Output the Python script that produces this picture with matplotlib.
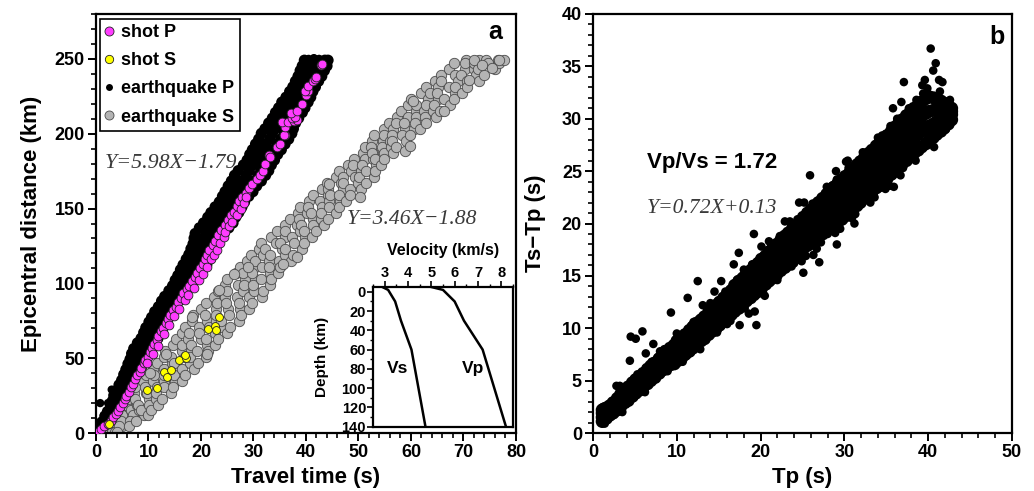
import matplotlib
matplotlib.use('Agg')
import matplotlib.pyplot as plt
from matplotlib.ticker import MultipleLocator
from matplotlib.lines import Line2D

plt.rcParams['font.family'] = ['Liberation Sans', 'DejaVu Sans']
plt.rcParams['font.weight'] = 'bold'
plt.rcParams['axes.linewidth'] = 1.6

# ---------------- Panel a data ----------------
# earthquake P (rows of distance with four travel-time readings across the band)
eqP_dist = [0.5, 4.2, 7.3, 11.1, 14.4, 18.2, 21.3, 25.1, 28.4, 32.2,
            35.3, 39.1, 42.4, 46.2, 49.3, 53.1, 56.4, 60.2, 63.3, 67.1,
            70.4, 74.2, 77.3, 81.1, 84.4, 88.2, 91.3, 95.1, 98.4, 102.2,
            105.3, 109.1, 112.4, 116.2, 119.3, 123.1, 126.4, 130.2, 133.3, 137.1,
            140.4, 144.2, 147.3, 151.1, 154.4, 158.2, 161.3, 165.1, 168.4, 172.2,
            175.3, 179.1, 182.4, 186.2, 189.3, 193.1, 196.4, 200.2, 203.3, 207.1,
            210.4, 214.2, 217.3, 221.1, 224.4, 228.2, 231.3, 235.1, 238.4, 242.2,
            245.3, 249.1]
eqP_time_a = [0.2, 0.6, 1.1, 1.7, 2.2, 2.8, 3.1, 3.4, 3.9, 4.4,
              4.9, 5.3, 5.7, 6.1, 6.5, 6.8, 7.2, 7.9, 8.6, 9.1,
              9.5, 10.1, 10.6, 11.2, 11.9, 12.5, 13.1, 13.9, 14.6, 15.1,
              15.6, 16.1, 16.6, 17.2, 17.7, 18.1, 18.5, 18.7, 18.9, 19.7,
              20.5, 21.3, 21.9, 22.7, 23.5, 24.1, 24.6, 25.2, 25.8, 26.4,
              27.1, 28.1, 28.8, 29.3, 29.8, 30.4, 31.0, 31.5, 32.2, 32.9,
              33.6, 34.2, 34.8, 35.4, 36.2, 36.9, 37.5, 38.0, 38.5, 38.9,
              39.3, 39.7]
eqP_time_b = [0.3, 0.9, 1.8, 2.5, 3.1, 3.6, 4.0, 4.4, 4.9, 5.4,
              5.9, 6.4, 6.7, 7.1, 7.6, 8.0, 8.6, 9.2, 9.9, 10.4,
              10.8, 11.4, 11.8, 12.4, 13.1, 13.7, 14.4, 15.2, 15.9, 16.5,
              17.0, 17.6, 18.2, 18.7, 19.2, 19.6, 20.1, 20.4, 21.0, 21.8,
              22.6, 23.2, 23.8, 24.5, 25.1, 25.8, 26.5, 27.1, 27.9, 28.6,
              29.2, 29.9, 30.6, 31.1, 31.8, 32.4, 33.1, 33.6, 34.1, 34.6,
              35.3, 36.0, 36.5, 37.2, 37.8, 38.3, 38.9, 39.5, 40.1, 40.6,
              41.1, 41.6]
eqP_time_c = [0.4, 1.1, 2.5, 3.3, 3.9, 4.4, 4.9, 5.4, 5.9, 6.5,
              6.9, 7.4, 7.9, 8.3, 8.8, 9.3, 10.0, 10.5, 11.1, 11.6,
              12.1, 12.6, 13.1, 13.7, 14.3, 15.0, 15.7, 16.5, 17.3, 17.9,
              18.5, 19.1, 19.8, 20.3, 20.8, 21.2, 21.7, 22.2, 23.0, 23.9,
              24.7, 25.2, 25.7, 26.3, 26.8, 27.6, 28.4, 29.1, 30.0, 30.9,
              31.4, 31.8, 32.4, 33.0, 33.8, 34.5, 35.2, 35.8, 36.0, 36.4,
              37.1, 37.8, 38.3, 39.0, 39.4, 39.8, 40.3, 41.0, 41.7, 42.3,
              43.0, 43.6]
eqP_time_d = [0.7, 1.5, 2.9, 3.7, 4.3, 4.8, 5.3, 5.8, 6.3, 6.9,
              7.5, 8.1, 8.6, 9.0, 9.5, 10.1, 10.7, 11.2, 11.8, 12.4,
              12.8, 13.3, 13.9, 14.4, 15.0, 15.8, 16.5, 17.2, 18.0, 18.8,
              19.6, 20.3, 21.1, 21.7, 22.1, 22.6, 23.1, 23.6, 24.4, 25.3,
              26.1, 26.6, 27.2, 27.8, 28.3, 29.1, 29.9, 30.6, 31.5, 32.3,
              32.9, 33.4, 34.0, 34.6, 35.3, 36.0, 36.7, 37.3, 37.6, 38.0,
              38.6, 39.3, 39.8, 40.4, 40.9, 41.3, 41.8, 42.4, 43.0, 43.5,
              44.0, 44.2]
eqP_extra_time = [0.8, 2.3, 3.0, 1.5, 40.5, 41.5, 42.5, 43.5, 43.8, 42.8, 44.0, 41.0]
eqP_extra_dist = [20, 20, 29, 12, 250, 250.5, 250, 249.5, 247, 244, 249, 246]

# earthquake S (rows of distance with five travel-time readings across the band)
eqS_dist = [1, 4.5, 8, 12, 15.5, 19, 23, 27, 31, 35,
            39, 43, 47, 51, 55, 59, 63, 67, 71, 75,
            79, 83, 87, 91, 95, 99, 103, 107, 111, 115,
            119, 123, 127, 131, 135, 139, 143, 147, 151, 155,
            159, 163, 167, 171, 175, 179, 183, 187, 191, 195,
            199, 203, 207, 211, 215, 219, 223, 227, 231, 235,
            239, 243, 247, 249.5]
eqS_time_a = [2.3, 3.0, 3.0, 4.2, 4.6, 5.7, 6.1, 7.3, 7.5, 8.9,
              9.5, 10.9, 11.6, 13.0, 13.2, 14.6, 15.2, 16.4, 17.0, 18.3,
              18.5, 20.1, 20.9, 22.4, 23.3, 24.6, 25.0, 26.6, 27.5, 28.7,
              29.5, 31.0, 31.4, 33.4, 34.4, 36.0, 36.9, 38.4, 38.8, 40.5,
              41.3, 43.0, 44.1, 45.8, 46.3, 48.1, 49.1, 50.8, 51.3, 52.6,
              53.0, 54.8, 55.8, 57.4, 58.1, 59.5, 60.1, 61.9, 62.9, 64.6,
              65.7, 67.3, 68.2, 70.4]
eqS_time_b = [3.1, 3.35, 4.7, 4.9, 6.75, 7.9, 7.4, 9.5, 9.4, 10.8,
              11.0, 13.05, 14.55, 14.35, 16.3, 16.3, 17.6, 17.7, 19.7, 21.2,
              20.7, 22.9, 23.1, 24.6, 24.9, 27.0, 28.35, 28.1, 30.3, 30.3,
              31.8, 32.2, 34.3, 36.1, 36.1, 38.3, 38.6, 40.2, 40.4, 42.7,
              44.2, 44.2, 46.7, 47.1, 48.55, 48.9, 51.2, 52.85, 52.45, 54.65,
              54.9, 56.6, 57.15, 59.45, 60.95, 60.9, 63.2, 63.55, 65.2, 65.8,
              68.35, 70.2, 70.3, 72.9]
eqS_time_c = [3.0, 5.0, 4.8, 7.15, 8.2, 8.05, 10.1, 9.65, 11.55, 12.95,
              13.05, 15.1, 14.8, 16.9, 18.05, 18.05, 20.1, 19.55, 21.55, 22.95,
              22.95, 25.15, 24.75, 26.85, 28.1, 28.15, 30.2, 29.65, 31.7, 33.05,
              33.2, 35.5, 35.05, 37.35, 38.85, 39.0, 41.3, 40.95, 43.0, 44.45,
              44.65, 47.1, 47.0, 49.25, 50.5, 50.65, 52.85, 52.5, 54.5, 56.0,
              56.35, 58.8, 58.7, 60.9, 62.4, 62.8, 65.15, 64.9, 67.15, 68.9,
              69.5, 72.1, 72.0, 74.25]
eqS_time_d = [3.7, 4.35, 6.5, 9.1, 8.65, 10.1, 11.4, 11.4, 12.9, 15.0,
              14.8, 16.45, 17.95, 17.95, 19.3, 21.1, 20.9, 22.6, 23.9, 23.9,
              25.4, 27.4, 27.3, 29.1, 30.1, 29.9, 31.35, 33.1, 32.9, 34.8,
              36.0, 36.1, 37.7, 39.8, 39.7, 41.4, 42.8, 42.8, 44.4, 46.4,
              46.3, 48.4, 50.0, 50.1, 51.45, 53.3, 53.1, 54.85, 56.15, 56.35,
              58.2, 60.5, 60.75, 62.65, 64.15, 64.4, 66.2, 68.35, 68.4, 70.6,
              72.35, 72.8, 74.7, 76.6]
eqS_time_e = [4.0, 6.2, 7.6, 10.0, 10.4, 11.9, 12.6, 14.2, 14.6, 16.3,
              17.0, 18.6, 19.5, 21.0, 21.3, 22.6, 23.2, 25.0, 25.6, 27.2,
              27.6, 29.1, 29.8, 31.6, 31.8, 33.1, 33.4, 34.6, 35.1, 37.1,
              37.6, 39.2, 39.7, 41.2, 41.9, 43.5, 44.2, 45.7, 46.2, 47.7,
              48.4, 50.5, 51.4, 52.9, 53.1, 54.3, 54.8, 56.5, 57.2, 59.0,
              59.9, 61.7, 62.8, 64.7, 65.6, 67.4, 68.2, 69.8, 70.6, 72.9,
              74.0, 76.0, 76.8, 77.8]
eqS_extra_time = [23.5, 38.2, 50.3, 58.9, 29.0, 18.2, 44.3, 60.4, 66.2, 72.0,
                  73.5, 75.5, 76.8, 71.0, 59.8, 35.7, 26.2, 13.4, 10.3, 21.1]
eqS_extra_dist = [95.5, 117.8, 157.8, 188.7, 111, 77.8, 166.5, 222, 215.3, 249.5,
                  246, 244, 249.5, 236, 192, 113, 106.5, 53, 39.8, 53]

# shot P
shotP_time = [0.3, 0.9, 1.6, 2.3, 2.8, 3.3, 3.8, 4.2, 4.6, 5.1,
              5.5, 5.8, 6.3, 6.6, 7.1, 7.5, 7.9, 8.3, 8.6, 9.1,
              9.4, 9.9, 10.2, 10.7, 11.1, 11.6, 11.9, 12.4, 12.8, 13.3,
              13.8, 14.1, 14.7, 15.2, 15.6, 16.2, 16.6, 17.3, 17.8, 18.3,
              18.9, 19.3, 19.8, 20.3, 20.8, 21.2, 21.6, 22.2, 22.6, 23.3,
              23.9, 24.6, 25.2, 25.8, 26.2, 26.8, 27.2, 27.9, 28.5, 29.2,
              29.8, 30.6, 31.3, 31.9,
              9.8, 10.9, 11.8, 13.0, 13.9, 14.9, 15.8, 16.9, 17.6, 18.6,
              19.6, 20.4, 21.2, 21.9, 22.4, 23.0, 23.6, 24.4, 24.6, 25.4,
              25.9, 26.9, 27.6, 28.2, 28.6,
              32.2, 32.9, 34.4, 35.0, 36.0, 35.9, 36.0, 35.5, 36.6, 37.7,
              38.3, 37.3, 37.9, 37.1, 38.2, 39.2, 40.1, 40.4, 39.8, 40.4,
              41.3, 41.7, 41.9, 42.8, 43.0, 33.1]
shotP_dist = [1.0, 2.5, 4.5, 6.0, 8.0, 10.5, 12.5, 15.0, 17.5, 20.0,
              22.5, 25.0, 27.5, 30.5, 33.0, 36.0, 38.5, 41.0, 43.5, 46.5,
              49.0, 51.0, 54.0, 56.5, 59.5, 62.0, 65.0, 68.0, 70.5, 73.5,
              76.0, 79.0, 82.0, 84.5, 87.5, 90.5, 93.5, 96.0, 98.5, 101.5,
              104.0, 107.0, 110.5, 113.0, 116.5, 119.0, 122.5, 125.5, 128.5, 132.0,
              135.5, 139.0, 142.5, 145.5, 148.0, 151.5, 155.0, 157.5, 160.5, 164.0,
              166.5, 170.0, 172.5, 175.0,
              47, 53, 58, 66, 72, 78, 83, 89, 92, 97,
              102, 106, 111, 116, 119, 122, 127, 131, 134, 138,
              141, 146, 150, 154, 158,
              180, 185.5, 191, 193, 198.9, 199.3, 204.7, 207.6, 207.7, 208.6,
              209, 210.5, 211, 214, 215.5, 219.8, 226, 228.6, 228.7, 232,
              235, 236.4, 238, 246, 246.4, 184.4]

# shot S
shotS_time = [2.5, 9.8, 11.7, 13.0, 13.5, 14.3, 15.9, 17.1, 16.9, 21.3, 22.7, 22.8, 23.5]
shotS_dist = [6.0, 28.6, 30.0, 40.5, 37.6, 42.2, 48.9, 49.8, 51.8, 69.3, 71.6, 69.1, 77.6]

# inset velocity model
vs_vel = [2.9, 3.15, 3.45, 3.7, 4.15, 4.75]
vs_depth = [-5, -2, 10, 30, 60, 140]
vp_vel = [5.0, 5.5, 6.0, 6.4, 7.2, 8.2]
vp_depth = [-5, -2, 10, 30, 60, 140]

# ---------------- Panel b data ----------------
b_tp = [1.1, 1.3, 1.6, 2.0, 2.4, 2.9, 3.3, 3.8, 4.2, 4.7,
        5.1, 5.6, 6.0, 6.5, 6.9, 7.4, 7.9, 8.3, 8.8, 9.2,
        9.7, 10.1, 10.6, 11.0, 11.5, 11.9, 12.4, 12.9, 13.3, 13.8,
        14.2, 14.7, 15.1, 15.6, 16.0, 16.5, 16.9, 17.4, 17.9, 18.3,
        18.8, 19.2, 19.7, 20.1, 20.6, 21.0, 21.5, 21.9, 22.4, 22.9,
        23.3, 23.8, 24.2, 24.7, 25.1, 25.6, 26.0, 26.5, 26.9, 27.4,
        27.9, 28.3, 28.8, 29.2, 29.7, 30.1, 30.6, 31.0, 31.5, 31.9,
        32.4, 32.9, 33.3, 33.8, 34.2, 34.7, 35.1, 35.6, 36.0, 36.5,
        36.9, 37.4, 37.9, 38.3, 38.8, 39.2, 39.7, 40.1, 40.6, 41.0,
        41.5, 41.9, 42.4, 42.8]
b_lo = [1.1, 1.3, 1.4, 1.7, 1.9, 2.2, 2.5, 2.9, 3.1, 3.5,
        3.8, 4.1, 4.4, 4.7, 5.0, 5.3, 5.7, 6.0, 6.3, 6.5,
        6.6, 6.9, 7.2, 7.5, 7.8, 8.1, 8.4, 8.8, 9.0, 9.4,
        9.7, 10.0, 10.3, 10.7, 10.9, 11.3, 11.6, 11.9, 12.3, 12.6,
        12.9, 13.2, 13.5, 13.8, 14.2, 14.5, 14.8, 15.1, 15.5, 15.8,
        16.1, 16.5, 16.7, 17.1, 17.6, 17.9, 18.1, 18.4, 18.7, 19.0,
        19.3, 19.6, 19.9, 20.1, 20.4, 20.7, 21.0, 21.3, 21.7, 22.0,
        22.4, 22.7, 23.0, 23.4, 23.6, 24.0, 24.3, 24.7, 25.0, 25.4,
        25.7, 26.0, 26.4, 26.7, 27.0, 27.3, 27.6, 27.9, 28.2, 28.5,
        28.8, 29.1, 29.5, 29.9]
b_m1 = [1.5, 1.7, 1.8, 2.0, 2.2, 2.6, 2.9, 3.2, 3.5, 3.8,
        4.1, 4.5, 4.8, 5.1, 5.4, 5.8, 6.1, 6.4, 6.7, 7.0,
        7.3, 7.6, 8.0, 8.3, 8.6, 8.9, 9.2, 9.6, 9.9, 10.2,
        10.5, 10.9, 11.2, 11.6, 11.8, 12.2, 12.5, 12.9, 13.2, 13.5,
        13.9, 14.2, 14.5, 14.8, 15.2, 15.5, 15.9, 16.2, 16.5, 16.9,
        17.2, 17.6, 17.9, 18.2, 18.6, 18.9, 19.2, 19.5, 19.8, 20.1,
        20.5, 20.8, 21.1, 21.4, 21.7, 22.0, 22.3, 22.6, 23.0, 23.3,
        23.7, 24.0, 24.4, 24.7, 25.0, 25.4, 25.7, 26.1, 26.4, 26.8,
        27.1, 27.5, 27.8, 28.1, 28.5, 28.8, 29.1, 29.3, 29.5, 29.7,
        29.9, 30.0, 30.2, 30.4]
b_m2 = [1.9, 2.1, 2.0, 2.3, 2.6, 2.9, 3.2, 3.6, 3.9, 4.3,
        4.5, 4.9, 5.2, 5.5, 5.8, 6.2, 6.5, 6.8, 7.2, 7.5,
        7.8, 8.1, 8.5, 8.8, 9.1, 9.4, 9.8, 10.1, 10.4, 10.8,
        11.1, 11.5, 11.8, 12.2, 12.4, 12.8, 13.1, 13.5, 13.9, 14.2,
        14.6, 14.9, 15.3, 15.5, 15.9, 16.2, 16.6, 16.9, 17.3, 17.7,
        18.0, 18.4, 18.7, 19.1, 19.6, 20.0, 20.3, 20.6, 20.9, 21.3,
        21.6, 21.9, 22.3, 22.6, 22.9, 23.2, 23.6, 23.9, 24.3, 24.6,
        25.0, 25.4, 25.7, 26.1, 26.4, 26.8, 27.1, 27.5, 27.8, 28.2,
        28.5, 28.9, 29.3, 29.6, 29.9, 30.2, 30.5, 30.7, 30.8, 30.9,
        31.0, 31.0, 30.9, 30.7]
b_hi = [2.2, 2.3, 2.4, 2.6, 2.9, 3.3, 3.7, 4.1, 4.4, 4.8,
        5.1, 5.4, 5.7, 6.1, 6.4, 6.7, 7.1, 7.4, 7.7, 8.1,
        8.4, 8.8, 9.1, 9.4, 9.8, 10.1, 10.5, 10.8, 11.1, 11.5,
        11.8, 12.2, 12.5, 12.9, 13.2, 13.6, 14.1, 14.5, 14.8, 15.2,
        15.5, 15.9, 16.2, 16.6, 16.9, 17.3, 17.7, 18.0, 18.4, 18.8,
        19.1, 19.5, 19.8, 20.2, 20.6, 21.0, 21.3, 21.7, 22.0, 22.4,
        22.8, 23.1, 23.5, 23.8, 24.2, 24.5, 24.8, 25.2, 25.6, 25.9,
        26.3, 26.7, 27.0, 27.4, 27.7, 28.1, 28.4, 28.8, 29.2, 29.6,
        29.9, 30.3, 30.7, 31.0, 31.3, 31.6, 31.9, 32.1, 32.0, 31.9,
        31.7, 31.5, 31.3, 31.0]
b_extra_tp = [2.8, 3.2, 4.4, 4.5, 5.1, 5.9, 6.3, 7.2, 8.0, 9.3,
              11.3, 12.5, 14.5, 15.3, 16.8, 17.4, 19.2, 19.5, 17.5, 20.1,
              22.9, 24.6, 25.2, 25.9, 29.0, 30.2, 30.4, 29.1, 25.1, 27.0,
              37.1, 38.6, 39.6, 40.3, 40.9, 40.6, 41.3, 41.7, 35.8, 36.8,
              33.5, 32.5, 22.3, 21.8, 11.5, 16.0, 18.6, 19.3, 26.3, 31.2,
              33.0, 35.9, 39.0, 40.2, 41.8, 27.9, 29.1, 10.0, 8.5, 13.1,
              36.3, 38.0, 39.3, 39.9, 34.5, 35.2, 23.5, 21.0, 1.2, 1.4,
              14.0, 18.0, 20.5, 24.0, 28.0, 32.0, 34.0, 37.5, 12.0, 7.0,
              3.5, 5.3, 6.2, 7.7, 8.9, 9.8, 10.7, 11.8, 12.8, 13.6,
              14.8, 15.8, 16.4, 17.2, 18.1, 19.0, 20.3, 21.2, 22.0, 22.7,
              23.7, 24.4, 25.4, 26.2, 27.2, 28.5, 29.5, 30.5, 31.3, 32.2,
              33.1, 34.0, 34.9, 35.5, 36.7, 37.7, 38.5, 39.4, 40.7, 41.4,
              42.1, 42.6, 38.9, 37.0, 35.4, 33.6, 30.9, 28.9, 26.7, 24.9]
b_extra_dt = [4.5, 4.5, 6.9, 9.2, 9.0, 9.7, 7.6, 8.5, 7.8, 11.5,
              12.9, 14.5, 13.5, 14.5, 16.1, 17.2, 19.0, 10.3, 10.3, 17.8,
              20.2, 22.0, 22.0, 24.6, 25.0, 25.9, 26.0, 18.0, 15.3, 16.3,
              33.5, 31.8, 33.7, 36.7, 35.3, 34.6, 33.7, 33.5, 31.0, 31.6,
              26.5, 26.0, 18.8, 17.6, 7.6, 10.4, 11.4, 11.6, 17.0, 20.0,
              22.4, 23.5, 27.0, 28.5, 28.9, 23.5, 24.2, 9.5, 8.0, 12.2,
              30.0, 31.0, 33.2, 32.9, 28.4, 28.6, 20.2, 18.3, 2.4, 0.9,
              12.4, 15.6, 13.1, 16.2, 19.0, 22.0, 23.6, 26.2, 10.6, 6.8,
              2.0, 5.6, 3.9, 7.2, 5.9, 8.9, 6.8, 10.3, 8.0, 11.9,
              9.6, 13.5, 10.7, 14.6, 11.9, 16.1, 13.3, 17.7, 14.6, 18.8,
              15.9, 20.4, 16.9, 21.9, 18.2, 23.6, 19.5, 25.3, 20.9, 26.8,
              22.0, 28.2, 23.3, 29.3, 24.6, 31.0, 26.0, 32.4, 27.3, 32.6,
              29.0, 31.8, 29.0, 25.3, 23.6, 22.5, 20.5, 19.1, 17.6, 16.4]

# ---------------- Figure ----------------
fig = plt.figure(figsize=(10.34, 4.91), dpi=100)
axA = fig.add_axes([0.0928, 0.1181, 0.4062, 0.8534])
axB = fig.add_axes([0.5735, 0.1181, 0.4052, 0.8534])


def style(ax, labelsize=13):
    ax.tick_params(which='major', direction='out', length=6, width=1.4,
                   labelsize=labelsize, pad=2)
    ax.tick_params(which='minor', direction='out', length=3.5, width=1.2)
    for sp in ax.spines.values():
        sp.set_linewidth(1.6)


GRAY_FACE = '#b4b4b4'
GRAY_EDGE = '#4a4a4a'
PINK = '#ff3cff'
YELLOW = '#ffff00'

# Panel a scatters
eP_t = eqP_time_a + eqP_time_b + eqP_time_c + eqP_time_d
eP_d = eqP_dist * 4
axA.scatter(eP_t, eP_d, s=66, c='black', edgecolors='none', zorder=2)
axA.scatter(eqP_extra_time, eqP_extra_dist, s=36, c='black', edgecolors='none', zorder=2)
eS_t = eqS_time_a + eqS_time_b + eqS_time_c + eqS_time_d + eqS_time_e + eqS_extra_time
eS_d = eqS_dist * 5 + eqS_extra_dist
axA.scatter(eS_t, eS_d, s=56, c=GRAY_FACE, edgecolors=GRAY_EDGE,
            linewidths=0.6, zorder=2)
axA.scatter(shotP_time, shotP_dist, s=40, c=PINK, edgecolors='#222222',
            linewidths=0.6, zorder=3)
axA.scatter(shotS_time, shotS_dist, s=32, c=YELLOW, edgecolors='#222222',
            linewidths=0.6, zorder=4)

axA.set_xlim(0, 80)
axA.set_ylim(0, 280)
axA.xaxis.set_major_locator(MultipleLocator(10))
axA.xaxis.set_minor_locator(MultipleLocator(2))
axA.yaxis.set_minor_locator(MultipleLocator(10))
axA.set_yticks([0, 50, 100, 150, 200, 250])
style(axA)
axA.set_xlabel('Travel time (s)', fontsize=16, fontweight='bold', labelpad=4)
axA.set_ylabel('Epicentral distance (km)', fontsize=16, fontweight='bold', labelpad=9)

handles = [
    Line2D([], [], ls='none', marker='o', markersize=6.5, markerfacecolor=PINK,
           markeredgecolor='#222222', markeredgewidth=0.6, label='shot P'),
    Line2D([], [], ls='none', marker='o', markersize=6, markerfacecolor=YELLOW,
           markeredgecolor='#222222', markeredgewidth=0.6, label='shot S'),
    Line2D([], [], ls='none', marker='o', markersize=5, markerfacecolor='black',
           markeredgecolor='black', markeredgewidth=0, label='earthquake P'),
    Line2D([], [], ls='none', marker='o', markersize=6.5, markerfacecolor=GRAY_FACE,
           markeredgecolor=GRAY_EDGE, markeredgewidth=0.6, label='earthquake S'),
]
leg = axA.legend(handles=handles, loc='upper left', frameon=True,
                 fancybox=False, edgecolor='black', framealpha=1,
                 prop=dict(size=13, weight='bold'), handletextpad=0.55,
                 borderpad=0.3, labelspacing=0.62, numpoints=1,
                 borderaxespad=0.25, handlelength=0.3)
leg.get_frame().set_linewidth(1.2)

axA.text(1.7, 180, 'Y=5.98X\u22121.79', fontsize=15.8, family='Liberation Serif',
         style='italic', fontweight='normal', color='#3a3a3a', va='center', ha='left')
axA.text(47.8, 143, 'Y=3.46X\u22121.88', fontsize=15.6, family='Liberation Serif',
         style='italic', fontweight='normal', color='#3a3a3a', va='center', ha='left')
axA.text(76, 268, 'a', fontsize=18, fontweight='bold', ha='center', va='center')

# Inset
axI = fig.add_axes([0.3607, 0.131, 0.1354, 0.2845])
axI.plot(vs_vel, vs_depth, color='black', lw=1.8)
axI.plot(vp_vel, vp_depth, color='black', lw=1.8)
axI.set_xlim(2.5, 8.5)
axI.set_ylim(140, -5)
axI.xaxis.tick_top()
axI.xaxis.set_label_position('top')
axI.xaxis.set_minor_locator(MultipleLocator(0.5))
axI.set_xticks([3, 4, 5, 6, 7, 8])
axI.set_yticks([0, 20, 40, 60, 80, 100, 120, 140])
axI.yaxis.set_minor_locator(MultipleLocator(10))
axI.tick_params(which='major', direction='out', length=4, width=1.2, labelsize=10.5, pad=1)
axI.tick_params(which='minor', direction='out', length=2.5, width=1.0)
for sp in axI.spines.values():
    sp.set_linewidth(1.6)
axI.set_xlabel('Velocity (km/s)', fontsize=11.5, fontweight='bold', labelpad=8)
axI.set_ylabel('Depth (km)', fontsize=11, fontweight='bold', labelpad=9)
axI.text(3.56, 80, 'Vs', fontsize=12.5, fontweight='bold', ha='center', va='center')
axI.text(6.78, 80, 'Vp', fontsize=12.5, fontweight='bold', ha='center', va='center')

# Panel b
b_x = b_tp * 4
b_y = b_lo + b_m1 + b_m2 + b_hi
axB.scatter(b_x, b_y, s=88, c='black', edgecolors='none', zorder=2)
axB.scatter(b_extra_tp, b_extra_dt, s=38, c='black', edgecolors='none', zorder=2)
axB.set_xlim(0, 50)
axB.set_ylim(0, 40)
axB.xaxis.set_major_locator(MultipleLocator(10))
axB.xaxis.set_minor_locator(MultipleLocator(2))
axB.yaxis.set_major_locator(MultipleLocator(5))
axB.yaxis.set_minor_locator(MultipleLocator(1))
style(axB)
axB.set_xlabel('Tp (s)', fontsize=16, fontweight='bold', labelpad=4)
axB.set_ylabel('Ts\u2212Tp (s)', fontsize=16, fontweight='bold', labelpad=11)
axB.text(6.4, 25.8, 'Vp/Vs = 1.72', fontsize=16, fontweight='bold', ha='left', va='center')
axB.text(6.4, 21.4, 'Y=0.72X+0.13', fontsize=15.6, family='Liberation Serif',
         style='italic', fontweight='normal', color='#3a3a3a', va='center', ha='left')
axB.text(48.2, 37.8, 'b', fontsize=18, fontweight='bold', ha='center', va='center')

fig.savefig('out.png', dpi=100)
